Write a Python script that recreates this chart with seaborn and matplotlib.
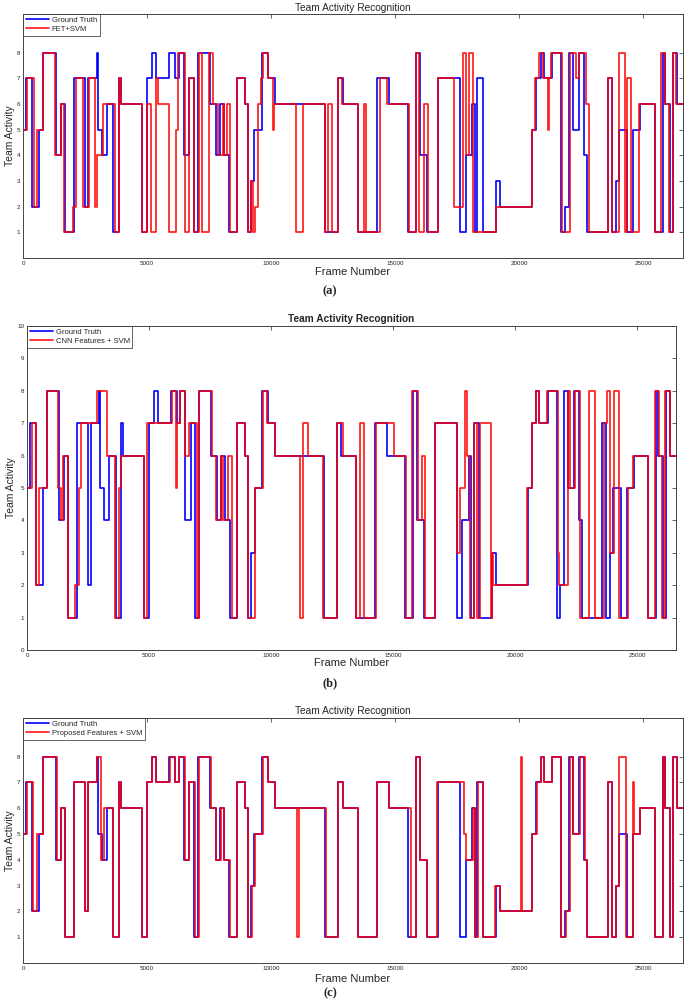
import pandas as pd
import matplotlib
matplotlib.use('Agg')
import matplotlib.pyplot as plt
import seaborn as sns

# ---------------- data (frame where the level changes, new level) ----------------
X_END = 26600

gt_frames = [0, 121, 376, 645, 820, 1330, 1532, 1693, 2056, 2500, 2607, 2970, 3010, 3172, 3373,
             3642, 3870, 3938, 4812, 4986, 5188, 5363, 5900, 6129, 6290, 6492, 6707, 6895, 7070,
             7540, 7782, 7943, 8104, 8319, 8615, 8951, 9059, 9180, 9327, 9650, 9865, 10161, 12177,
             12714, 12887, 13492, 14273, 14744, 15511, 15821, 15983, 16279, 16723, 17625, 17840,
             18109, 18203, 18311, 18540, 19051, 19240, 20519, 20694, 20869, 20990, 21340, 21703,
             21838, 22013, 22174, 22416, 22618, 22740, 23587, 23722, 23897, 24032, 24328, 24597,
             24866, 25472, 25781, 25875, 26077, 26185, 26347]
gt_levels = [5, 7, 2, 5, 8, 4, 6, 1, 7, 2, 7, 8, 5, 4, 6, 1, 7, 6, 1, 7,
             8, 7, 8, 7, 8, 4, 7, 1, 8, 6, 4, 6, 4, 1, 7, 6, 1, 3, 5, 8,
             7, 6, 1, 7, 6, 1, 7, 6, 1, 8, 4, 1, 7, 1, 4, 6, 1, 7, 1, 3,
             2, 5, 7, 8, 7, 8, 1, 2, 8, 5, 8, 4, 1, 7, 1, 3, 5, 1, 5, 6,
             1, 8, 6, 1, 8, 6]

# (a) FET+SVM
fet_frames = [0, 148, 444, 578, 793, 1290, 1532, 1667, 2003, 2137, 2433, 2675, 2903, 2970, 3239,
              3709, 3870, 3965, 4785, 4986, 5148, 5349, 5457, 5900, 6169, 6263, 6532, 6707, 6908,
              7096, 7204, 7513, 7674, 7876, 8050, 8104, 8212, 8346, 8615, 8951, 9086, 9180, 9287,
              9354, 9489, 9583, 9690, 9865, 10093, 10120, 11007, 11276, 12177, 12311, 12446, 12714,
              12853, 13484, 13725, 13832, 14369, 14664, 15537, 15845, 15980, 16181, 16315, 16718,
              17375, 17751, 17858, 17993, 18154, 19066, 20529, 20636, 20811, 20972, 21173, 21213,
              21267, 21710, 22046, 22287, 22421, 22690, 22824, 23589, 23723, 24032, 24260, 24354,
              24502, 24823, 25468, 25710, 25871, 26045, 26206, 26313]
fet_levels = [5, 7, 2, 5, 8, 4, 6, 1, 2, 7, 2, 7, 2, 4, 6, 1, 7, 6, 1, 6,
              1, 7, 6, 1, 5, 8, 1, 7, 1, 8, 1, 8, 6, 4, 6, 4, 6, 1, 7, 6,
              1, 3, 1, 2, 6, 7, 8, 7, 5, 6, 1, 6, 1, 6, 1, 7, 6, 1, 6, 1,
              7, 6, 1, 8, 1, 6, 1, 7, 2, 8, 4, 8, 1, 2, 5, 7, 8, 7, 5, 7,
              8, 1, 8, 7, 8, 6, 1, 7, 1, 8, 1, 7, 1, 6, 1, 8, 6, 1, 8, 6]

# (b) CNN Features + SVM
cnn_frames = [0, 191, 369, 505, 806, 1284, 1393, 1489, 1694, 1967, 2131, 2213, 2882, 3265, 3606,
              3784, 3852, 4795, 4904, 5928, 6106, 6133, 6270, 6475, 6652, 6953, 7062, 7582, 7745,
              7936, 8046, 8251, 8415, 8592, 8934, 9070, 9343, 9685, 9822, 10163, 11188, 11324,
              11530, 12144, 12717, 12945, 13466, 13657, 13794, 14288, 15041, 15548, 15795, 16028,
              16206, 16302, 16713, 17644, 17767, 17946, 18014, 18151, 18329, 18425, 18562, 19014,
              19055, 19110, 20480, 20686, 20850, 20987, 21329, 21782, 21823, 22165, 22261, 22467,
              22645, 23015, 23289, 23631, 23768, 23878, 24069, 24275, 24617, 24837, 25439, 25755,
              25892, 26029, 26166, 26371]
cnn_levels = [5, 7, 2, 5, 8, 5, 4, 6, 1, 2, 5, 7, 8, 6, 1, 5, 6, 1, 7, 8,
              5, 7, 8, 6, 7, 1, 8, 6, 4, 6, 4, 6, 1, 7, 6, 1, 5, 8, 7, 6,
              1, 7, 6, 1, 7, 6, 1, 7, 1, 7, 6, 1, 8, 4, 6, 1, 7, 3, 5, 8,
              6, 1, 7, 1, 7, 1, 3, 2, 5, 7, 8, 7, 8, 3, 2, 8, 5, 8, 1, 8,
              1, 7, 8, 3, 8, 1, 5, 6, 1, 8, 6, 1, 8, 6]

# (c) Proposed Features + SVM
prop_frames = [0, 148, 417, 551, 820, 1357, 1532, 1693, 2056, 2500, 2607, 2970, 3131, 3279, 3642,
               3870, 3938, 4812, 4986, 5188, 5363, 5927, 6129, 6290, 6532, 6707, 6935, 7096, 7567,
               7782, 7970, 8104, 8346, 8642, 8951, 9086, 9220, 9354, 9690, 9865, 10161, 11048,
               11128, 12204, 12714, 12887, 13492, 14273, 14744, 15619, 15848, 16010, 16279, 16696,
               17759, 17867, 18136, 18203, 18338, 18540, 19011, 19240, 20088, 20128, 20519, 20721,
               20869, 20990, 21340, 21663, 21878, 22040, 22174, 22443, 22645, 22740, 23587, 23722,
               23897, 24032, 24288, 24597, 24624, 24866, 25472, 25781, 25875, 26077, 26185, 26347]
prop_levels = [5, 7, 2, 5, 8, 4, 6, 1, 7, 2, 7, 8, 4, 6, 1, 7, 6, 1, 7, 8,
               7, 8, 7, 8, 4, 7, 1, 8, 6, 4, 6, 4, 1, 7, 6, 1, 3, 5, 8, 7,
               6, 1, 6, 1, 7, 6, 1, 7, 6, 1, 8, 4, 1, 7, 5, 4, 6, 1, 7, 1,
               3, 2, 8, 2, 5, 7, 8, 7, 8, 1, 2, 8, 5, 8, 4, 1, 7, 1, 3, 8,
               1, 7, 5, 6, 1, 8, 6, 1, 8, 6]


def steps(frames, levels):
    # close the last step at the right edge of the axis
    return pd.DataFrame({'frame': list(frames) + [X_END],
                         'level': list(levels) + [levels[-1]]})


W, H = 685, 1002

def px_rect(l, r, t, b):
    return [l / W, 1 - b / H, (r - l) / W, (b - t) / H]


sns.set_style('white')
plt.rcParams['font.family'] = ['Liberation Sans', 'DejaVu Sans']

fig = plt.figure(figsize=(W / 100, H / 100), dpi=100)

panels = [
    dict(rect=px_rect(23, 683, 14, 258), fr=fet_frames, lv=fet_levels, name='FET+SVM',
         ylim=(0, 9.5), yticks=range(1, 9), weight='normal', tag='(a)', tag_y=291,
         tpad=2.5, xpad=1.0),
    dict(rect=px_rect(27, 676, 326, 650), fr=cnn_frames, lv=cnn_levels, name='CNN Features + SVM',
         ylim=(0, 10), yticks=range(0, 11), weight='bold', tag='(b)', tag_y=683,
         tpad=3, xpad=0.0),
    dict(rect=px_rect(23, 683, 718, 963), fr=prop_frames, lv=prop_levels, name='Proposed Features + SVM',
         ylim=(0, 9.5), yticks=range(1, 9), weight='normal', tag='(c)', tag_y=993,
         tpad=3, xpad=2.5),
]

for p in panels:
    ax = fig.add_axes(p['rect'])
    gt = steps(gt_frames, gt_levels)
    pr = steps(p['fr'], p['lv'])
    sns.lineplot(data=gt, x='frame', y='level', color='#0000ff', lw=1.2,
                 drawstyle='steps-post', estimator=None, sort=False,
                 label='Ground Truth', ax=ax)
    sns.lineplot(data=pr, x='frame', y='level', color='#ff0000', lw=1.25, alpha=0.88,
                 drawstyle='steps-post', estimator=None, sort=False,
                 label=p['name'], ax=ax)

    ax.set_xlim(0, X_END)
    ax.set_ylim(*p['ylim'])
    ax.set_xticks([0, 5000, 10000, 15000, 20000, 25000])
    ax.set_yticks(list(p['yticks']))
    ax.tick_params(direction='in', length=3, width=0.5, top=True, right=True,
                   labelsize=4.5, pad=2, colors='#222222')
    for s in ax.spines.values():
        s.set_color('#444444')
        s.set_linewidth(0.7)

    ax.set_title('Team Activity Recognition', fontsize=7.3, fontweight=p['weight'], pad=p['tpad'])
    ax.set_xlabel('Frame Number', fontsize=8, labelpad=p['xpad'])
    ax.set_ylabel('Team Activity', fontsize=7.5, labelpad=1)

    leg = ax.legend(loc='upper left', fontsize=5.5, frameon=True, fancybox=False,
                    borderaxespad=0, handlelength=3, borderpad=0.35, labelspacing=0.2,
                    handletextpad=0.4)
    leg.get_frame().set_edgecolor('#222222')
    leg.get_frame().set_linewidth(0.6)

    fig.text(330 / W, 1 - p['tag_y'] / H, p['tag'], ha='center', va='center',
             fontsize=9, fontweight='bold', family='Liberation Serif')

fig.savefig('out.png', dpi=100, facecolor='white')
